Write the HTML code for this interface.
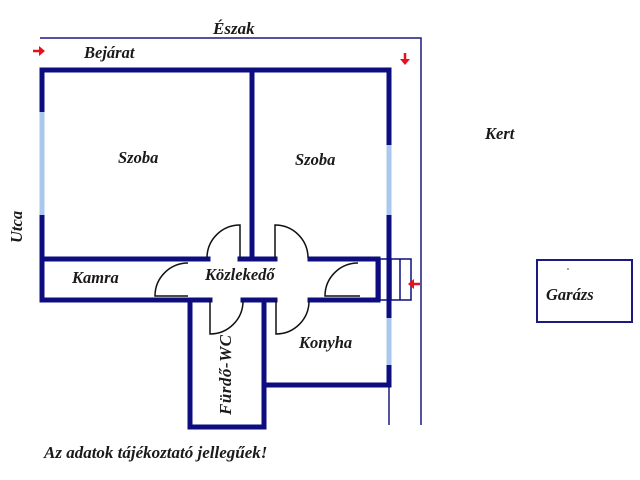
<!DOCTYPE html>
<html><head><meta charset="utf-8"><style>body{margin:0;background:#fff}svg{display:block}text{font-family:"Liberation Serif",serif;font-style:italic;font-weight:bold;fill:#1a1a1a}</style></head><body>
<svg width="640" height="480" viewBox="0 0 640 480">
<g stroke="#1a1a80" stroke-width="1.5" fill="none">
<polyline points="40,38 421,38 421,425"/>
<line x1="389" y1="385" x2="389" y2="425"/>
<rect x="537" y="260" width="95" height="62" stroke-width="2"/>
</g>
<g stroke="#0d0d80" stroke-width="5" fill="none" stroke-linecap="square">
<polyline points="42,300 42,70 389,70 389,385 265,385"/>
<line x1="252" y1="70" x2="252" y2="258"/>
<line x1="42" y1="259" x2="208" y2="259"/>
<line x1="240" y1="259" x2="275" y2="259"/>
<line x1="310" y1="259" x2="378" y2="259"/>
<line x1="42" y1="300" x2="210" y2="300"/>
<line x1="243" y1="300" x2="275" y2="300"/>
<line x1="310" y1="300" x2="378" y2="300"/>
<polyline points="190,300 190,427 264,427 264,300"/>
<line x1="378" y1="259" x2="378" y2="300"/>
</g>
<g stroke="#a8c8ee" stroke-width="5">
<line x1="42" y1="112" x2="42" y2="215"/>
<line x1="389" y1="145" x2="389" y2="215"/>
<line x1="389" y1="318" x2="389" y2="365"/>
</g>
<g stroke="#111" stroke-width="1.5" fill="none">
<path d="M240,258 V225 A33,33 0 0 0 207,258"/>
<path d="M275,258 V225 A33,33 0 0 1 308,258"/>
<path d="M210,300 V334 A33,33 0 0 0 243,301"/>
<path d="M276,300 V334 A33,33 0 0 0 309,301"/>
<path d="M188,296 H155 A33,33 0 0 1 188,263"/>
<path d="M360,296 H325 A33,33 0 0 1 358,263"/>
</g>
<g stroke="#0d0d80" stroke-width="1.5" fill="none">
<rect x="380" y="259" width="31" height="41"/>
<line x1="391" y1="259" x2="391" y2="300"/>
<line x1="400" y1="259" x2="400" y2="300"/>
</g>
<g fill="#e8101a" stroke="#e8101a" stroke-width="2.5">
<line x1="33" y1="51" x2="41" y2="51"/><polygon points="45,51 39,46 39,56" stroke="none"/>
<line x1="405" y1="53" x2="405" y2="60"/><polygon points="405,65 400,59 410,59" stroke="none"/>
<line x1="413" y1="284" x2="420" y2="284"/><polygon points="408,284 414,279 414,289" stroke="none"/>
</g>
<text x="213" y="34" font-size="17">Észak</text>
<text x="84" y="58" font-size="16.5">Bejárat</text>
<text x="118" y="163" font-size="16.5">Szoba</text>
<text x="295" y="165" font-size="16.5">Szoba</text>
<text x="485" y="139" font-size="16.5">Kert</text>
<text x="72" y="283" font-size="16.5">Kamra</text>
<text x="205" y="280" font-size="16.5">Közlekedő</text>
<text x="299" y="348" font-size="16.5">Konyha</text>
<text x="546" y="300" font-size="16.5">Garázs</text>
<text x="44" y="458" font-size="17">Az adatok tájékoztató jellegűek!</text>
<text transform="translate(231,415) rotate(-90)" font-size="17" letter-spacing="0.5">Fürdő-WC</text>
<text transform="translate(22,243) rotate(-90)" font-size="16.5">Utca</text>
<circle cx="568" cy="269" r="0.8" fill="#333"/>
</svg>
</body></html>
